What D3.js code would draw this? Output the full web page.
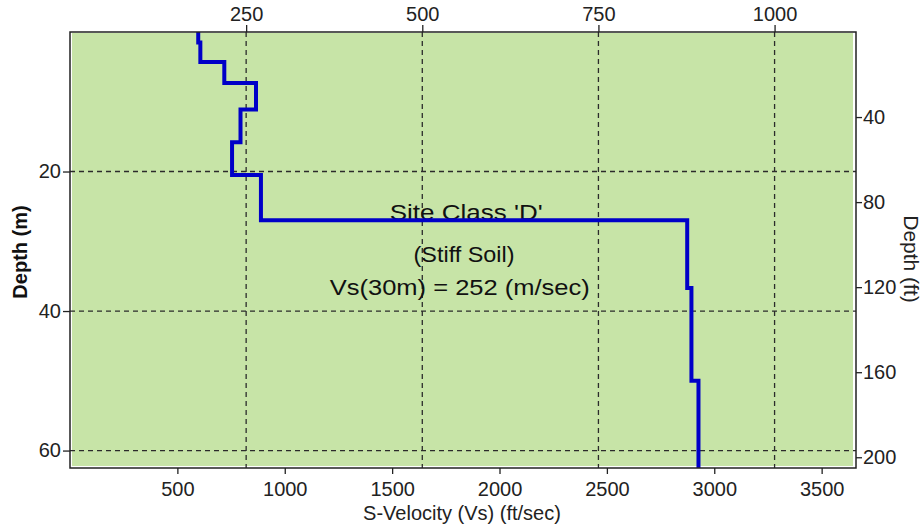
<!DOCTYPE html>
<html>
<head>
<meta charset="utf-8">
<script src="https://cdn.jsdelivr.net/npm/d3@7"></script>
<style>
  body { margin: 0; background: #fff; }
  text { font-family: "Liberation Sans", Arial, sans-serif; }
</style>
</head>
<body>
<div id="viz1"></div>
<script>
// velocity profile, one step per layer
var layerTop = [0, 1.5, 4.3, 7.3, 11.1, 15.8, 20.5, 27.0, 36.7, 50.0]
var layerVs = [182, 185, 219, 264, 242, 230, 271, 876, 882, 892]   // m/sec
var maxDepth = 62.5

// tick labels
var msTicks = [250, 500, 750, 1000]
var ftsTicks = [500, 1000, 1500, 2000, 2500, 3000, 3500]
var mTicks = [20, 40, 60]
var ftTicks = [40, 80, 120, 160, 200]

// annotation text, placed in data units (ft/sec, m)
var notes = ["Site Class 'D'", "(Stiff Soil)", "Vs(30m) = 252 (m/sec)"]
var noteX = [1845, 1835, 1815]
var noteY = [26.9, 32.9, 37.7]
var noteW = [153, 101, 260]

var FT = 3.28084

// set the dimensions
var W = 923, H = 527
var margin = {top: 32, right: 67, bottom: 59, left: 70},
    width = W - margin.left - margin.right,
    height = H - margin.top - margin.bottom;

var svg = d3.select("#viz1")
  .append("svg")
    .attr("width", W)
    .attr("height", H)
  .append("g")
    .attr("transform", "translate(" + margin.left + "," + margin.top + ")");

// scales
var xFt = d3.scaleLinear().domain([0, 3660]).range([0, width])
var xM = d3.scaleLinear().domain([0, 3660 / FT]).range([0, width])
var yM = d3.scaleLinear().domain([0, maxDepth]).range([0, height])
var yFt = d3.scaleLinear().domain([0, maxDepth * FT]).range([0, height])

// background
svg.append("rect")
  .attr("x", 2).attr("y", 1)
  .attr("width", width - 5).attr("height", height - 3)
  .attr("fill", "#c7e4a7")

// grid
svg.append("g").selectAll("line")
  .data(msTicks).enter().append("line")
    .attr("x1", function(d) { return xM(d); })
    .attr("x2", function(d) { return xM(d); })
    .attr("y1", 0).attr("y2", height)
    .attr("stroke", "#2b2b2b")
    .attr("stroke-width", 1.3)
    .attr("stroke-dasharray", "5,4")
svg.append("g").selectAll("line")
  .data(mTicks).enter().append("line")
    .attr("y1", function(d) { return yM(d); })
    .attr("y2", function(d) { return yM(d); })
    .attr("x1", 0).attr("x2", width)
    .attr("stroke", "#2b2b2b")
    .attr("stroke-width", 1.3)
    .attr("stroke-dasharray", "5,4")

// annotation
svg.append("g").selectAll("text")
  .data(notes).enter().append("text")
    .attr("x", function(d, i) { return xFt(noteX[i]); })
    .attr("y", function(d, i) { return yM(noteY[i]); })
    .attr("text-anchor", "middle")
    .attr("textLength", function(d, i) { return noteW[i]; })
    .attr("lengthAdjust", "spacingAndGlyphs")
    .style("font-size", "22px")
    .attr("fill", "#111")
    .text(function(d) { return d; })

// step line
var pts = []
layerTop.forEach(function(t, i) {
  var bot = i < layerTop.length - 1 ? layerTop[i + 1] : maxDepth
  pts.push([layerVs[i], t])
  pts.push([layerVs[i], bot])
})
svg.append("path")
  .datum(pts)
  .attr("fill", "none")
  .attr("stroke", "#0000c8")
  .attr("stroke-width", 4)
  .attr("stroke-linejoin", "miter")
  .attr("d", d3.line()
    .x(function(d) { return xM(d[0]); })
    .y(function(d) { return yM(d[1]); }))

// frame
svg.append("rect")
  .attr("width", width).attr("height", height)
  .attr("fill", "none")
  .attr("stroke", "#222")
  .attr("stroke-width", 1.5)

// axes
function style(g) {
  g.select(".domain").remove()
  g.selectAll(".tick line").attr("stroke", "#222").attr("stroke-width", 1.3)
  g.selectAll(".tick text").attr("fill", "#222").style("font-size", "20px")
}
svg.append("g")
  .attr("transform", "translate(0," + height + ")")
  .call(d3.axisBottom(xFt).tickValues(ftsTicks).tickSize(6).tickPadding(8).tickFormat(d3.format("d")))
  .call(style)
svg.append("g")
  .call(d3.axisTop(xM).tickValues(msTicks).tickSize(7).tickPadding(4).tickFormat(d3.format("d")))
  .call(style)
svg.append("g")
  .call(d3.axisLeft(yM).tickValues(mTicks).tickSize(7).tickPadding(2))
  .call(style)
svg.append("g")
  .attr("transform", "translate(" + width + ",0)")
  .call(d3.axisRight(yFt).tickValues(ftTicks).tickSize(6).tickPadding(1))
  .call(style)

// axis titles
svg.append("text")
  .attr("x", 392).attr("y", height + 52)
  .attr("text-anchor", "middle")
  .attr("fill", "#222")
  .style("font-size", "20px")
  .text("S-Velocity (Vs) (ft/sec)")
svg.append("text")
  .attr("transform", "translate(-43," + (height / 2 + 2) + ") rotate(-90)")
  .attr("text-anchor", "middle")
  .attr("fill", "#111")
  .style("font-size", "20px")
  .style("font-weight", "bold")
  .text("Depth (m)")
svg.append("text")
  .attr("transform", "translate(" + (width + 48) + "," + (height / 2 + 9) + ") rotate(90)")
  .attr("text-anchor", "middle")
  .attr("fill", "#222")
  .style("font-size", "21px")
  .text("Depth (ft)")
</script>
</body>
</html>
